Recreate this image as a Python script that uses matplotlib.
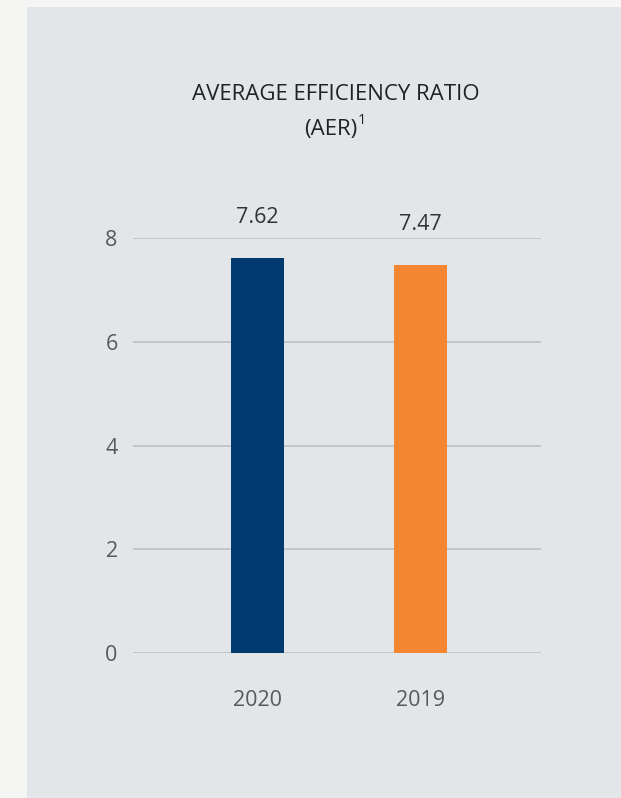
import matplotlib
matplotlib.use("Agg")
from matplotlib import pyplot as plt

# data
anys = ["2020", "2019"]
valors = [7.62, 7.47]
colors = ["#003a6e", "#f58733"]
yticks = [0, 2, 4, 6, 8]

plt.rcParams['font.family'] = ['Open Sans', 'DejaVu Sans']

W, H = 621, 798
fig = plt.figure(figsize=(W / 100, H / 100), dpi=100)
fig.patch.set_facecolor("#f5f5f3")

# light panel behind the chart
bg = fig.add_axes([27 / W, 0, 1 - 27 / W, (H - 7) / H], zorder=-1)
bg.set_facecolor("#e2e6e9")
bg.set_xticks([])
bg.set_yticks([])
for s in bg.spines.values():
    s.set_visible(False)

ax = fig.add_axes([133 / W, (H - 653) / H, 408 / W, 415 / H], zorder=1)
ax.set_facecolor("none")

x = range(len(anys))
ax.bar(x, valors, width=0.325, color=colors, zorder=3)

for i, v in zip(x, valors):
    ax.text(i, v + 0.58, f"{v:.2f}", ha="center", va="bottom",
            fontsize=15.5, color="#333333", clip_on=False)

ax.set_xlim(-0.764, 1.739)
ax.set_ylim(0, 8)
ax.set_yticks(yticks)
ax.set_xticks(list(x))
ax.set_xticklabels(anys)
ax.grid(axis="y", color="#b9bdc0", linewidth=1.1, zorder=1)
for s in ax.spines.values():
    s.set_visible(False)
ax.tick_params(axis="both", length=0, labelsize=15.5, labelcolor="#595959")
ax.tick_params(axis="y", pad=11)
ax.tick_params(axis="x", pad=27)

# title
fig.text(336 / W, 1 - 95 / H, "AVERAGE EFFICIENCY RATIO", ha="center",
         va="center", fontsize=16, color="#222222")
fig.text(331 / W, 1 - 129 / H, "(AER)", ha="center", va="center",
         fontsize=16, color="#222222")
fig.text(358 / W, 1 - 120 / H, "1", ha="left", va="center",
         fontsize=10.5, color="#222222")

fig.savefig("out.png", dpi=100, facecolor=fig.get_facecolor())
